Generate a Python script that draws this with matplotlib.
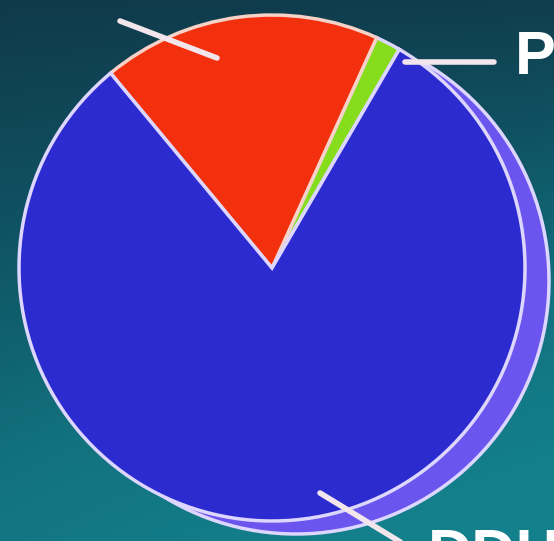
import numpy as np
import matplotlib
matplotlib.use("Agg")
import matplotlib.pyplot as plt
from matplotlib.patches import Wedge
from matplotlib.colors import LinearSegmentedColormap

# Slice shares (percent), drawn counter-clockwise from the start angle
categories = ["P", "other", "DDH"]
shares = [1.6, 17.8, 80.6]
slice_colors = ["#86dd1c", "#f2300e", "#2c2bcf"]
label_text = {"P": "P", "DDH": "DDH"}

W, H = 554, 541
fig = plt.figure(figsize=(W / 100, H / 100), dpi=100)
ax = fig.add_axes([0, 0, 1, 1])

# Teal gradient backdrop
yy, xx = np.mgrid[0:1:200j, 0:1:200j]
t = np.clip(0.75 * yy + 0.35 * xx * yy + 0.05 * xx, 0, 1)
bg = LinearSegmentedColormap.from_list("bg", ["#103a4a", "#0f5464", "#12737f", "#13808c"])
ax.imshow(t, cmap=bg, extent=[0, W, 0, H], origin="upper", aspect="auto", zorder=0)

cx, cy, r = 272, H - 268, 253
start = 59.8
edge = "#ddd6ff"

# Angles of each slice from the shares
angles = np.cumsum([0] + shares) / 100 * 360 + start

# Lighter raised rim behind the large slice
big = 2
rim = Wedge((cx + 24, cy - 13), r, angles[big], angles[big + 1],
            facecolor="#6b55ee", edgecolor=edge, linewidth=2.5, zorder=1)
ax.add_patch(rim)

wedges, _ = ax.pie(shares, colors=slice_colors, startangle=start, counterclock=True,
                   center=(cx, cy), radius=r, frame=True,
                   wedgeprops=dict(edgecolor=edge, linewidth=2.5, zorder=2))
for w in wedges:
    w.set_zorder(2)
wedges[1].set_edgecolor("#f6d2c8")

# Leader lines and labels
lc = "#f2e6ec"
ax.plot([120, 217], [H - 21, H - 58], color=lc, lw=4, solid_capstyle="round", zorder=3)
ax.plot([405, 494], [H - 62, H - 62], color=lc, lw=4, solid_capstyle="round", zorder=3)
ax.plot([320, 402], [H - 493, H - 543], color=lc, lw=4, solid_capstyle="round", zorder=3)

ax.text(515, H - 58, label_text["P"], color="white", fontsize=44, fontweight="bold",
        family="Liberation Sans", ha="left", va="center", zorder=4)
ax.text(428, H - 528, label_text["DDH"], color="white", fontsize=44, fontweight="bold",
        family="Liberation Sans", ha="left", va="top", zorder=4)

ax.set_xlim(0, W)
ax.set_ylim(0, H)
ax.set_aspect("auto")
ax.axis("off")
fig.savefig("out.png", dpi=100)
